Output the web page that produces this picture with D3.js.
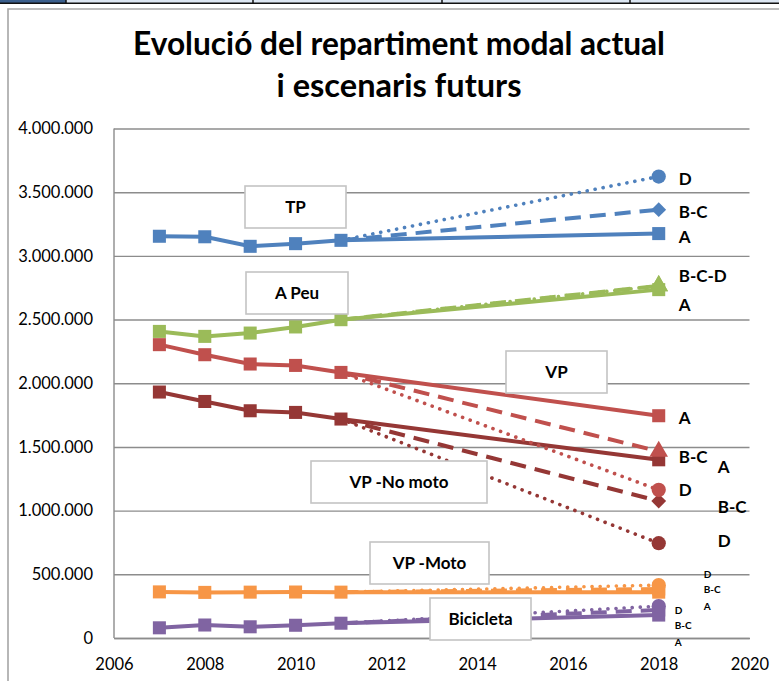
<!DOCTYPE html>
<html>
<head>
<meta charset="utf-8">
<script src="https://cdn.jsdelivr.net/npm/d3@7"></script>
<style>
  body { margin: 0; background: #fff; }
  svg { display: block; font-family: Lato, "Open Sans", sans-serif; }
</style>
</head>
<body>
<svg id="chart" width="779" height="681"></svg>
<script>
// historic years + forecast year
const years = [2007, 2008, 2009, 2010, 2011];
const forecastYear = 2018;
const scenarios = ["A", "B-C", "D"];

// trips per mode, 2007-2011
const tp = [3154000, 3150000, 3075000, 3096000, 3122000];
const aPeu = [2407000, 2368000, 2394000, 2442000, 2499000];
const vp = [2303000, 2224000, 2151000, 2140000, 2085000];
const vpNoMoto = [1931000, 1857000, 1784000, 1771000, 1719000];
const vpMoto = [362000, 358000, 360000, 361000, 360000];
const bicicleta = [80000, 102000, 88000, 100000, 116000];

// 2018 per scenario: A, B-C, D
const tp2018 = [3175000, 3363000, 3623000];
const aPeu2018 = [2735000, 2765000, 2765000];
const vp2018 = [1745000, 1465000, 1163000];
const vpNoMoto2018 = [1399000, 1075000, 744000];
const vpMoto2018 = [360000, 385000, 415000];
const bicicleta2018 = [180000, 220000, 250000];

const yTicks = [0, 500000, 1000000, 1500000, 2000000, 2500000, 3000000, 3500000, 4000000];
const xTicks = [2006, 2008, 2010, 2012, 2014, 2016, 2018, 2020];

const svg = d3.select("#chart");
const plotL = 114, plotR = 749.5, plotT = 128.5, plotB = 638;

const x = d3.scaleLinear().domain([2006, 2020]).range([plotL, plotR]);
const y = d3.scaleLinear().domain([0, 4000000]).range([plotB, plotT]);
const fmt = d3.formatLocale({ decimal: ",", thousands: ".", grouping: [3], currency: ["", ""] }).format(",d");

// excel table strip at the very top
svg.append("rect").attr("x", 0).attr("y", 0).attr("width", 66).attr("height", 3).attr("fill", "#3b5f8c");
svg.append("rect").attr("x", 66).attr("y", 0).attr("width", 713).attr("height", 3).attr("fill", "#dce6f2");
svg.append("rect").attr("x", 0).attr("y", 2.5).attr("width", 779).attr("height", 1.5).attr("fill", "#111");
[66, 253, 442, 630].forEach(sx => {
  svg.append("rect").attr("x", sx - 0.75).attr("y", 0).attr("width", 1.5).attr("height", 4).attr("fill", "#111");
});

// chart frame
svg.append("path").attr("d", "M8,681V9H779").attr("fill", "none").attr("stroke", "#a6a6a6").attr("stroke-width", 1.6);

// title
const title = svg.append("g").attr("font-weight", "bold").attr("fill", "#000").attr("text-anchor", "middle");
title.append("text").attr("x", 399).attr("y", 55).attr("font-size", 32)
  .attr("textLength", 532).attr("lengthAdjust", "spacingAndGlyphs")
  .text("Evolució del repartiment modal actual");
title.append("text").attr("x", 399).attr("y", 97).attr("font-size", 32)
  .attr("textLength", 245).attr("lengthAdjust", "spacingAndGlyphs")
  .text("i escenaris futurs");

// y axis + gridlines
const gy = svg.append("g").attr("transform", `translate(${plotL},0)`)
  .call(d3.axisLeft(y).tickValues(yTicks).tickFormat(fmt).tickSize(-(plotR - plotL)).tickPadding(21));
gy.select(".domain").remove();
gy.selectAll(".tick line").attr("stroke", "#8c8c8c").attr("stroke-width", 1.4);
gy.selectAll(".tick text").attr("font-size", 16.5).attr("fill", "#000").attr("font-family", "Lato, sans-serif");
svg.append("line").attr("x1", plotL).attr("x2", plotL).attr("y1", plotT).attr("y2", plotB)
  .attr("stroke", "#8c8c8c").attr("stroke-width", 1.4);

// x axis
const gx = svg.append("g").attr("transform", `translate(0,${plotB})`)
  .call(d3.axisBottom(x).tickValues(xTicks).tickFormat(d3.format("d")).tickSize(0).tickPadding(20));
gx.select(".domain").attr("stroke", "#8c8c8c").attr("stroke-width", 1.4);
gx.selectAll(".tick text").attr("font-size", 16.5).attr("fill", "#000").attr("font-family", "Lato, sans-serif");

const modes = [
  { hist: vpMoto, fut: vpMoto2018, color: "#f79646", marks: ["square", "square", "circle"] },
  { hist: bicicleta, fut: bicicleta2018, color: "#8064a2", marks: ["square", "square", "circle"] },
  { hist: vpNoMoto, fut: vpNoMoto2018, color: "#953735", marks: ["square", "diamond", "circle"] },
  { hist: vp, fut: vp2018, color: "#c0504d", marks: ["square", "triangle", "circle"] },
  { hist: aPeu, fut: aPeu2018, color: "#9bbb59", marks: ["square", "triangle", "triangle"] },
  { hist: tp, fut: tp2018, color: "#4f81bd", marks: ["square", "diamond", "circle"] }
];

const dashes = { "A": null, "B-C": "16,9", "D": "0.1,8" };
const symbols = {
  square: d3.symbol().type(d3.symbolSquare).size(170),
  diamond: d3.symbol().type(d3.symbolSquare).size(110),
  circle: d3.symbol().type(d3.symbolCircle).size(160),
  triangle: d3.symbol().type(d3.symbolTriangle).size(150)
};
const line = d3.line().x(d => x(d[0])).y(d => y(d[1]));

modes.forEach(m => {
  const g = svg.append("g");
  const last = [years[years.length - 1], m.hist[m.hist.length - 1]];
  // scenario lines, D first so A ends on top
  [2, 1, 0].forEach(i => {
    g.append("path")
      .attr("d", line([last, [forecastYear, m.fut[i]]]))
      .attr("fill", "none")
      .attr("stroke", m.color)
      .attr("stroke-width", scenarios[i] === "D" ? 3.6 : 4)
      .attr("stroke-linecap", scenarios[i] === "D" ? "round" : "butt")
      .attr("stroke-dasharray", dashes[scenarios[i]]);
  });
  g.append("path")
    .attr("d", line(years.map((yr, i) => [yr, m.hist[i]])))
    .attr("fill", "none").attr("stroke", m.color).attr("stroke-width", 4);
  g.selectAll(".hm").data(m.hist).enter().append("path")
    .attr("transform", (d, i) => `translate(${x(years[i])},${y(d)})`)
    .attr("d", symbols.square()).attr("fill", m.color);
  [0, 1, 2].forEach(i => {
    const rot = m.marks[i] === "diamond" ? " rotate(45)" : "";
    g.append("path")
      .attr("transform", `translate(${x(forecastYear)},${y(m.fut[i])})${rot}`)
      .attr("d", symbols[m.marks[i]]()).attr("fill", m.color);
  });
});

// labelled boxes
const boxes = [
  { text: "TP", x0: 245, y0: 186, x1: 346, y1: 228 },
  { text: "A Peu", x0: 246, y0: 272, x1: 348, y1: 314 },
  { text: "VP", x0: 506, y0: 351, x1: 607, y1: 393 },
  { text: "VP -No moto", x0: 311, y0: 461, x1: 487, y1: 503 },
  { text: "VP -Moto", x0: 370, y0: 542, x1: 489, y1: 584 },
  { text: "Bicicleta", x0: 430, y0: 598, x1: 531, y1: 640 }
];
boxes.forEach(b => {
  svg.append("rect").attr("x", b.x0).attr("y", b.y0).attr("width", b.x1 - b.x0).attr("height", b.y1 - b.y0)
    .attr("fill", "#fff").attr("stroke", "#c4c4c4").attr("stroke-width", 1.6);
  svg.append("text").attr("x", (b.x0 + b.x1) / 2).attr("y", (b.y0 + b.y1) / 2 + 6)
    .attr("text-anchor", "middle").attr("font-size", 17).attr("font-weight", "bold").attr("fill", "#000")
    .text(b.text);
});

// scenario tags next to the 2018 points
const tags = [
  { vals: tp2018, texts: ["A", "B-C", "D"], dx: 20, dy: [3.7, 2.6, 2], size: 17 },
  { vals: [aPeu2018[0], aPeu2018[1]], texts: ["A", "B-C-D"], dx: 20, dy: [15, -9.5], size: 17 },
  { vals: vp2018, texts: ["A", "B-C", "D"], dx: 20, dy: [1.7, 5, 0], size: 17 },
  { vals: vpNoMoto2018, texts: ["A", "B-C", "D"], dx: 59, dy: [7.3, 5.5, -2.3], size: 17 },
  { vals: vpMoto2018, texts: ["A", "B-C", "D"], dx: 45, dy: [14.5, 0.3, -11], size: 10 },
  { vals: bicicleta2018, texts: ["A", "B-C", "D"], dx: 16, dy: [27.6, 15.3, 4.5], size: 10 }
];
tags.forEach(t => {
  t.vals.forEach((v, i) => {
    svg.append("text")
      .attr("x", x(forecastYear) + t.dx)
      .attr("y", y(v) + t.dy[i] + t.size * 0.36)
      .attr("font-size", t.size).attr("font-weight", "bold").attr("fill", "#000")
      .text(t.texts[i]);
  });
});
</script>
</body>
</html>
